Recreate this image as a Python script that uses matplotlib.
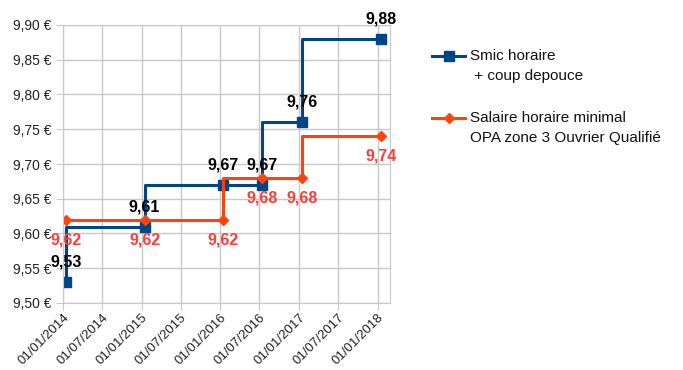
import datetime as dt
import matplotlib
matplotlib.use("Agg")
import matplotlib.pyplot as plt
import matplotlib.dates as mdates
from matplotlib.ticker import FuncFormatter

plt.rcParams['font.family'] = ['Liberation Sans', 'DejaVu Sans']

# Données
smic_dates = [dt.date(2014, 1, 15), dt.date(2015, 1, 15), dt.date(2016, 1, 15),
              dt.date(2016, 7, 15), dt.date(2017, 1, 15), dt.date(2018, 1, 15)]
smic_vals = [9.53, 9.61, 9.67, 9.67, 9.76, 9.88]
opa_vals = [9.62, 9.62, 9.62, 9.68, 9.68, 9.74]
smic_label = "Smic horaire\n + coup depouce"
opa_label = "Salaire horaire minimal\nOPA zone 3 Ouvrier Qualifié"
tick_dates = [dt.date(2014, 1, 1), dt.date(2014, 7, 1), dt.date(2015, 1, 1),
              dt.date(2015, 7, 1), dt.date(2016, 1, 1), dt.date(2016, 7, 1),
              dt.date(2017, 1, 1), dt.date(2017, 7, 1), dt.date(2018, 1, 1)]
y_ticks = [9.50, 9.55, 9.60, 9.65, 9.70, 9.75, 9.80, 9.85, 9.90]

blue = '#004586'
orange = '#ff420e'
red_lbl = '#ff3b3b'
grid_c = '#c8c8c8'

fig = plt.figure(figsize=(6.83, 3.70), dpi=100)
ax = fig.add_axes([63 / 683, 1 - 303 / 370, (390 - 63) / 683, (303 - 25) / 370])

ax.plot(smic_dates, smic_vals, drawstyle='steps-pre', color=blue, lw=2.2)
ax.plot(smic_dates, smic_vals, ls='none', marker='s', ms=7.3, color=blue)
ax.plot(smic_dates, opa_vals, drawstyle='steps-pre', color=orange, lw=2.2)
ax.plot(smic_dates, opa_vals, ls='none', marker='D', ms=5.5, color=orange)

# étiquettes de valeurs
for d, v in zip(smic_dates, smic_vals):
    ax.annotate(f"{v:.2f}".replace('.', ','), (d, v), xytext=(0, 20),
                textcoords='offset pixels', ha='center', va='center',
                fontsize=11.5, fontweight='bold', color='black')
for d, v in zip(smic_dates, opa_vals):
    ax.annotate(f"{v:.2f}".replace('.', ','), (d, v), xytext=(0, -20),
                textcoords='offset pixels', ha='center', va='center',
                fontsize=11.5, fontweight='bold', color=red_lbl)

ax.set_xlim(dt.date(2014, 1, 1), dt.date(2018, 2, 27))
ax.set_ylim(9.50, 9.90)
ax.set_xticks(tick_dates)
ax.xaxis.set_major_formatter(mdates.DateFormatter('%d/%m/%Y'))
ax.set_yticks(y_ticks)
ax.yaxis.set_major_formatter(FuncFormatter(lambda v, p: f"{v:.2f} €".replace('.', ',')))
ax.grid(True, color=grid_c, lw=1)
ax.set_axisbelow(True)
for s in ax.spines.values():
    s.set_color(grid_c)
ax.tick_params(colors=grid_c, labelcolor='#222222', labelsize=10, length=5)
ax.tick_params(axis='x', labelsize=9.5, pad=1)
plt.setp(ax.get_xticklabels(), rotation=45, ha='right', rotation_mode='anchor')

# légende
lx0, lx1, tx = 432 / 683, 465 / 683, 470 / 683
entries = [(smic_label, blue, 's', 6.5, 56), (opa_label, orange, 'D', 5, 118)]
for label, col, mk, ms, ypx in entries:
    y = 1 - ypx / 370
    fig.add_artist(plt.Line2D([lx0, lx1], [y, y], color=col, lw=2.2,
                              transform=fig.transFigure))
    fig.add_artist(plt.Line2D([(lx0 + lx1) / 2], [y], color=col, marker=mk, ms=ms,
                              transform=fig.transFigure))
    for i, line in enumerate(label.split('\n')):
        fig.text(tx, 1 - (ypx + 20 * i) / 370, line, fontsize=11,
                 va='center', ha='left', color='#111111')

fig.savefig('out.png', dpi=100)
